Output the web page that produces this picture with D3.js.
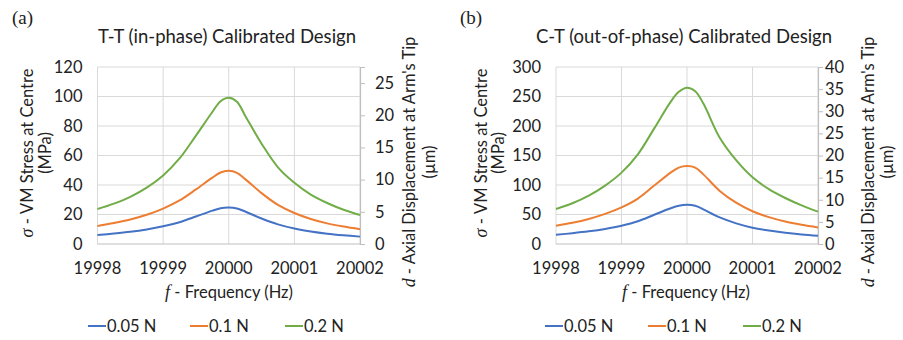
<!DOCTYPE html>
<html>
<head>
<meta charset="utf-8">
<script src="https://cdn.jsdelivr.net/npm/d3@7"></script>
<style>
  body { margin: 0; background: #fff; }
</style>
</head>
<body>
<div id="chart"></div>
<script>
// Frequency points (Hz)
var freq = [19998, 19998.25, 19998.5, 19998.75, 19999, 19999.25, 19999.5, 19999.75, 19999.875,
            20000, 20000.125, 20000.25, 20000.5, 20000.75, 20001, 20001.25, 20001.5, 20001.75, 20002];
var xTicks = [19998, 19999, 20000, 20001, 20002];
var seriesNames = ["0.05 N", "0.1 N", "0.2 N"];
var colors = ["#4472c4", "#ed7d31", "#70ad47"];

// (a) T-T in-phase, stress in MPa
var ttBlue   = [6.1, 7.1, 8.3, 9.9, 12, 14.8, 18.6, 22.6, 24.3, 24.8, 24.1, 22, 17.3, 13.3, 10.5, 8.5, 7, 5.9, 5];
var ttOrange = [12.2, 14.2, 16.6, 19.8, 24, 29.5, 37, 45, 48.5, 49.6, 48.2, 44, 34.5, 26.5, 21, 17, 14, 11.8, 10];
var ttGreen  = [23.7, 27.4, 32, 38.2, 46.5, 58, 73.5, 89.5, 96.8, 99.2, 96.5, 87, 68, 52, 41.5, 33.5, 27.8, 23.2, 19.7];
var ttLeftTicks = [0, 20, 40, 60, 80, 100, 120];
var ttRightTicks = [0, 5, 10, 15, 20, 25];

// (b) C-T out-of-phase, stress in MPa
var ctBlue   = [15.6, 18.3, 21.5, 25.6, 31, 38.5, 49.5, 60.5, 64.8, 66.4, 64.8, 58.8, 45, 35, 27.7, 22.7, 19, 16.2, 14];
var ctOrange = [31, 36, 42.5, 51, 62, 77, 99, 121, 129.5, 132, 129.5, 118, 90, 70, 55.5, 45.5, 38, 32.5, 28];
var ctGreen  = [59.3, 69, 82, 99, 121, 152, 196, 241, 258, 265, 259, 238, 180, 142, 113, 93, 78, 65.5, 54.8];
var ctLeftTicks = [0, 50, 100, 150, 200, 250, 300];
var ctRightTicks = [0, 5, 10, 15, 20, 25, 30, 35, 40];

var FONT = "Lato, 'Open Sans', sans-serif";
var SERIF = "'Liberation Serif', 'DejaVu Serif', serif";
var INK = "#222";

var svg = d3.select("#chart")
  .append("svg")
    .attr("width", 903)
    .attr("height", 340)
    .style("font-family", FONT);

svg.append("rect").attr("width", 903).attr("height", 340).attr("fill", "#fff");

function label(sel, size) {
  return sel.style("font-family", FONT).style("font-size", size + "px").attr("fill", INK);
}

function drawPanel(p) {
  var g = svg.append("g");

  var x = d3.scaleLinear().domain([19998, 20002]).range([p.left, p.right]);
  var y = d3.scaleLinear().domain([0, p.leftTicks[p.leftTicks.length - 1]]).range([244, 67]);
  var y2 = d3.scaleLinear().domain([0, p.rightMax]).range([244, 67]);

  // gridlines
  g.selectAll(".hg").data(p.leftTicks.slice(1)).enter().append("line")
    .attr("x1", p.left).attr("x2", p.right)
    .attr("y1", function(d) { return y(d); }).attr("y2", function(d) { return y(d); })
    .attr("stroke", "#d9d9d9").attr("stroke-width", 1);
  g.selectAll(".vg").data(xTicks).enter().append("line")
    .attr("x1", function(d) { return x(d); }).attr("x2", function(d) { return x(d); })
    .attr("y1", 67).attr("y2", 244)
    .attr("stroke", "#d9d9d9").attr("stroke-width", 1);

  // bottom axis line
  g.append("line").attr("x1", p.left).attr("x2", p.right).attr("y1", 244).attr("y2", 244)
    .attr("stroke", "#bfbfbf").attr("stroke-width", 1.2);

  // right axis
  var ra = g.append("g").attr("transform", "translate(" + p.right + ",0)")
    .call(d3.axisRight(y2).tickValues(p.rightTicks).tickSize(5).tickPadding(p.rightPad));
  ra.select(".domain").attr("stroke", "#bfbfbf").attr("stroke-width", 1.2);
  ra.selectAll(".tick line").attr("stroke", "#bfbfbf");
  label(ra.selectAll(".tick text"), 16.5);

  // left tick labels
  label(g.selectAll(".lt").data(p.leftTicks).enter().append("text"), 16.5)
    .attr("x", p.left - 15).attr("y", function(d) { return y(d); })
    .attr("dy", "0.35em").attr("text-anchor", "end")
    .text(function(d) { return d; });

  // bottom tick labels
  label(g.selectAll(".bt").data(xTicks).enter().append("text"), 16.5)
    .attr("x", function(d) { return x(d); }).attr("y", 274)
    .attr("text-anchor", "middle")
    .text(function(d) { return d; });

  // lines
  var line = d3.line()
    .x(function(d, i) { return x(freq[i]); })
    .y(function(d) { return y(d); })
    .curve(d3.curveCatmullRom.alpha(0.5));
  p.series.forEach(function(s, i) {
    g.append("path").datum(s).attr("d", line)
      .attr("fill", "none").attr("stroke", colors[i]).attr("stroke-width", 2);
  });

  // title and panel letter
  label(g.append("text"), 18.5).attr("x", p.titleX).attr("y", 43).attr("text-anchor", "middle")
    .text(p.title);
  g.append("text").attr("x", p.letterX).attr("y", 24).attr("fill", INK)
    .style("font-family", SERIF).style("font-size", "19px").text(p.letter);

  // x axis title
  var xt = label(g.append("text"), 16.5).attr("x", p.titleX + 2).attr("y", 298).attr("text-anchor", "middle");
  xt.append("tspan").style("font-family", SERIF).style("font-style", "italic").style("font-size", "18px").text("f");
  xt.append("tspan").text(" - Frequency (Hz)");

  // left y title
  var lt = label(g.append("text"), 16.5).attr("transform", "translate(" + p.yl1 + ",153) rotate(-90)")
    .attr("text-anchor", "middle").attr("dy", "0.35em");
  lt.append("tspan").style("font-family", SERIF).style("font-style", "italic").style("font-size", "18px").text("σ");
  lt.append("tspan").text(" - VM Stress at Centre");
  label(g.append("text"), 16.5).attr("transform", "translate(" + p.yl2 + ",153) rotate(-90)")
    .attr("text-anchor", "middle").attr("dy", "0.35em").text("(MPa)");

  // right y title
  var rt = label(g.append("text"), 16.5).attr("transform", "translate(" + p.yr1 + ",162) rotate(-90)")
    .attr("text-anchor", "middle").attr("dy", "0.35em");
  rt.append("tspan").style("font-family", SERIF).style("font-style", "italic").style("font-size", "18px").text("d");
  rt.append("tspan").text(" - Axial Displacement at Arm's Tip");
  label(g.append("text"), 16.5).attr("transform", "translate(" + p.yr2 + ",162) rotate(-90)")
    .attr("text-anchor", "middle").attr("dy", "0.35em").text("(µm)");

  // legend
  var lg = g.selectAll(".lg").data(seriesNames).enter().append("g")
    .attr("transform", function(d, i) { return "translate(" + p.legendX[i] + ",326)"; });
  lg.append("line").attr("x1", 0).attr("x2", 18).attr("stroke", function(d, i) { return colors[i]; })
    .attr("stroke-width", 2);
  label(lg.append("text"), 16.5).attr("x", 19).attr("dy", "0.35em").text(function(d) { return d; });
}

drawPanel({
  left: 97.5, right: 360, rightMax: 27.5, rightPad: 10,
  leftTicks: ttLeftTicks, rightTicks: ttRightTicks,
  series: [ttBlue, ttOrange, ttGreen],
  title: "T-T (in-phase) Calibrated Design", titleX: 227,
  letter: "(a)", letterX: 12,
  yl1: 27, yl2: 45, yr1: 409, yr2: 429,
  legendX: [88, 190, 285]
});

drawPanel({
  left: 556, right: 818, rightMax: 40, rightPad: 2,
  leftTicks: ctLeftTicks, rightTicks: ctRightTicks,
  series: [ctBlue, ctOrange, ctGreen],
  title: "C-T (out-of-phase) Calibrated Design", titleX: 684,
  letter: "(b)", letterX: 460,
  yl1: 481, yl2: 498, yr1: 868, yr2: 887,
  legendX: [545, 648, 743]
});
</script>
</body>
</html>
